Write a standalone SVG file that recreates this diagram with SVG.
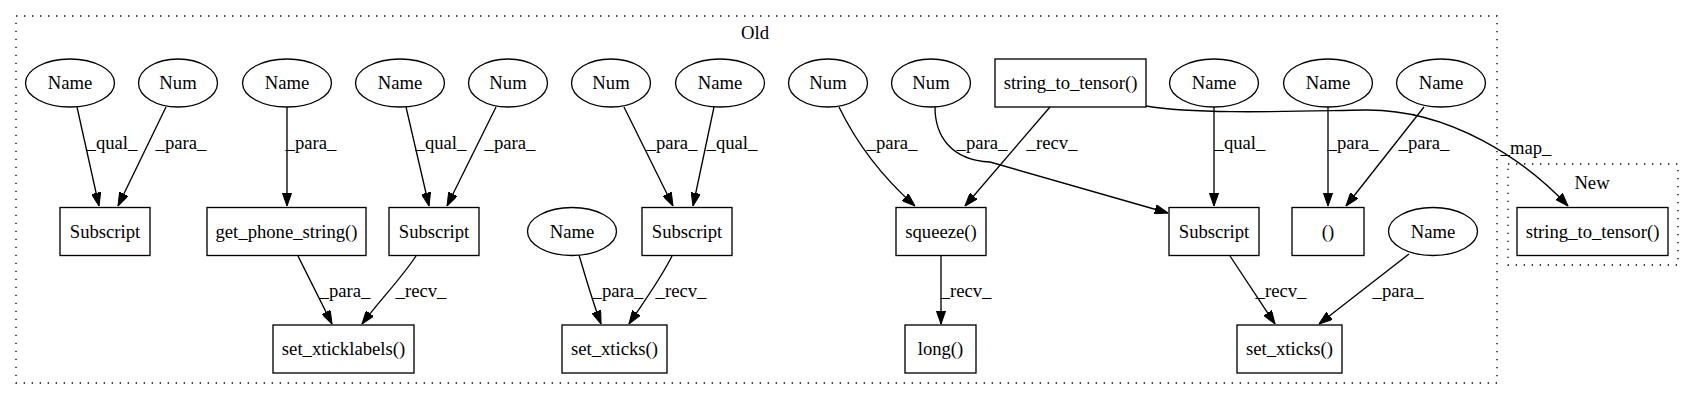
<svg xmlns="http://www.w3.org/2000/svg" width="1693" height="400" viewBox="0 0 1693 400">
<style>
text{font-family:"Liberation Serif","Times New Roman",serif;font-size:18.67px;fill:#000}
.n{text-anchor:middle}
.l{text-anchor:middle}
.shape{fill:none;stroke:#000;stroke-width:1.33}
.cl{fill:none;stroke:#000;stroke-width:1.33;stroke-dasharray:1.33,6.67}
.e{fill:none;stroke:#000;stroke-width:1.33;marker-end:url(#ah)}
</style>
<defs>
<marker id="ah" viewBox="0 0 10 7" refX="10" refY="3.5" markerWidth="13.3" markerHeight="9.3" markerUnits="userSpaceOnUse" orient="auto">
<path d="M0,0 L10,3.5 L0,7 z" fill="#000" stroke="#000" stroke-width="0.8"/>
</marker>
</defs>
<rect width="1693" height="400" fill="#fff"/>
<g id="cluster_old">
<rect class="cl" x="16" y="16" width="1481" height="367"/>
<text class="n" x="755" y="39">Old</text>
</g>
<g id="cluster_new">
<rect class="cl" x="1508" y="164" width="170" height="101"/>
<text class="n" x="1592" y="189">New</text>
</g>
<g id="edges">
<path class="e" d="M77,107 L99,206"/>
<text class="l" x="112" y="149">_qual_</text>
<path class="e" d="M166,107 L118,206"/>
<text class="l" x="181" y="149">_para_</text>
<path class="e" d="M287,107 L287,206"/>
<text class="l" x="311" y="149">_para_</text>
<path class="e" d="M406,107 L429,206"/>
<text class="l" x="441" y="149">_qual_</text>
<path class="e" d="M496,107 L447,206"/>
<text class="l" x="510" y="149">_para_</text>
<path class="e" d="M298,256 L332,324"/>
<text class="l" x="345" y="297">_para_</text>
<path class="e" d="M416,256 C400,280 380,300 362,324"/>
<text class="l" x="421" y="297">_recv_</text>
<path class="e" d="M624,107 L673,206"/>
<text class="l" x="672" y="149">_para_</text>
<path class="e" d="M714,107 L693,206"/>
<text class="l" x="732" y="149">_qual_</text>
<path class="e" d="M579,255 C585,275 592,300 601,324"/>
<text class="l" x="618" y="297">_para_</text>
<path class="e" d="M672,256 C660,280 645,300 629,324"/>
<text class="l" x="681" y="297">_recv_</text>
<path class="e" d="M839,107 C855,140 880,175 915,206"/>
<text class="l" x="892" y="149">_para_</text>
<path class="e" d="M1050,107 L965,206"/>
<text class="l" x="1052" y="149">_recv_</text>
<path class="e" d="M935,107 C935,135 950,160 990,162 L1168,213"/>
<text class="l" x="982" y="149">_para_</text>
<path class="e" d="M941,256 L941,324"/>
<text class="l" x="966" y="297">_recv_</text>
<path class="e" d="M1214,107 L1214,206"/>
<text class="l" x="1240" y="149">_qual_</text>
<path class="e" d="M1328,107 L1328,206"/>
<text class="l" x="1353" y="149">_para_</text>
<path class="e" d="M1424,107 L1346,206"/>
<text class="l" x="1424" y="149">_para_</text>
<path class="e" d="M1230,256 L1275,324"/>
<text class="l" x="1281" y="297">_recv_</text>
<path class="e" d="M1409,254 L1319,324"/>
<text class="l" x="1398" y="297">_para_</text>
<path class="e" d="M1146,106 C1200,115 1300,111 1365,110 C1450,109 1525,160 1568,206"/>
<text class="l" x="1526" y="154">_map_</text>
</g>
<g id="n_name1"><ellipse class="shape" cx="70" cy="83" rx="44.5" ry="24"/><text class="n" x="70" y="89">Name</text></g>
<g id="n_num1"><ellipse class="shape" cx="178" cy="83" rx="39.5" ry="24"/><text class="n" x="178" y="89">Num</text></g>
<g id="n_name2"><ellipse class="shape" cx="287" cy="83" rx="44.5" ry="24"/><text class="n" x="287" y="89">Name</text></g>
<g id="n_name3"><ellipse class="shape" cx="400" cy="83" rx="44.5" ry="24"/><text class="n" x="400" y="89">Name</text></g>
<g id="n_num2"><ellipse class="shape" cx="508" cy="83" rx="39.5" ry="24"/><text class="n" x="508" y="89">Num</text></g>
<g id="n_num3"><ellipse class="shape" cx="611" cy="83" rx="39.5" ry="24"/><text class="n" x="611" y="89">Num</text></g>
<g id="n_name4"><ellipse class="shape" cx="720" cy="83" rx="44.5" ry="24"/><text class="n" x="720" y="89">Name</text></g>
<g id="n_num4"><ellipse class="shape" cx="828" cy="83" rx="39.5" ry="24"/><text class="n" x="828" y="89">Num</text></g>
<g id="n_num5"><ellipse class="shape" cx="931" cy="83" rx="39.5" ry="24"/><text class="n" x="931" y="89">Num</text></g>
<g id="n_stt_old"><rect class="shape" x="995" y="59" width="151" height="48"/><text class="n" x="1070.5" y="89">string_to_tensor()</text></g>
<g id="n_name5"><ellipse class="shape" cx="1214" cy="83" rx="44.5" ry="24"/><text class="n" x="1214" y="89">Name</text></g>
<g id="n_name6"><ellipse class="shape" cx="1328" cy="83" rx="44.5" ry="24"/><text class="n" x="1328" y="89">Name</text></g>
<g id="n_name7"><ellipse class="shape" cx="1441" cy="83" rx="44.5" ry="24"/><text class="n" x="1441" y="89">Name</text></g>
<g id="n_sub1"><rect class="shape" x="60" y="207.5" width="90" height="48"/><text class="n" x="105" y="237.5">Subscript</text></g>
<g id="n_gps"><rect class="shape" x="207" y="207.5" width="159" height="48"/><text class="n" x="286.5" y="237.5">get_phone_string()</text></g>
<g id="n_sub2"><rect class="shape" x="389" y="207.5" width="90" height="48"/><text class="n" x="434" y="237.5">Subscript</text></g>
<g id="n_name_r2"><ellipse class="shape" cx="572" cy="231.5" rx="44.5" ry="24"/><text class="n" x="572" y="237.5">Name</text></g>
<g id="n_sub3"><rect class="shape" x="642" y="207.5" width="90" height="48"/><text class="n" x="687" y="237.5">Subscript</text></g>
<g id="n_squeeze"><rect class="shape" x="896" y="207.5" width="90" height="48"/><text class="n" x="941" y="237.5">squeeze()</text></g>
<g id="n_sub4"><rect class="shape" x="1169" y="207.5" width="90" height="48"/><text class="n" x="1214" y="237.5">Subscript</text></g>
<g id="n_tuple"><rect class="shape" x="1292" y="207.5" width="72" height="48"/><text class="n" x="1328" y="237.5">()</text></g>
<g id="n_name8"><ellipse class="shape" cx="1433" cy="231.5" rx="44.5" ry="24"/><text class="n" x="1433" y="237.5">Name</text></g>
<g id="n_stt_new"><rect class="shape" x="1517" y="207.5" width="151" height="48"/><text class="n" x="1592.5" y="237.5">string_to_tensor()</text></g>
<g id="n_sxtl"><rect class="shape" x="273" y="325" width="141" height="48"/><text class="n" x="343.5" y="355">set_xticklabels()</text></g>
<g id="n_sxt1"><rect class="shape" x="562" y="325" width="105" height="48"/><text class="n" x="614.5" y="355">set_xticks()</text></g>
<g id="n_long"><rect class="shape" x="905" y="325" width="71" height="48"/><text class="n" x="940.5" y="355">long()</text></g>
<g id="n_sxt2"><rect class="shape" x="1237" y="325" width="105" height="48"/><text class="n" x="1289.5" y="355">set_xticks()</text></g>
</svg>
